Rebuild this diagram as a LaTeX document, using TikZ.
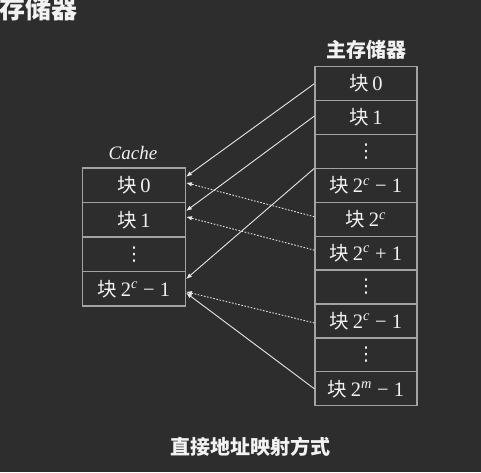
\documentclass[tikz,border=0pt]{standalone}
\usepackage{fontspec}
\setmainfont{Liberation Serif}
\newfontfamily\cjk{Noto Sans CJK SC}
\newfontfamily\dejavu{DejaVu Sans}
\usetikzlibrary{arrows.meta}
\definecolor{board}{HTML}{2D2D2D}
\definecolor{frame}{HTML}{A3A3A3}
\definecolor{ink}{HTML}{F2F2F2}
\definecolor{wire}{HTML}{E6E6E6}
\newcommand{\blk}[1]{{\cjk\fontsize{19.5}{20}\selectfont 块}\,#1}
\newcommand{\sps}[1]{\textsuperscript{\itshape #1}}
\newcommand{\vd}{{\dejavu\fontsize{19}{20}\selectfont ⋮}}
\tikzset{
  cell/.style={draw=frame, line width=1.3pt, fill=board, text=ink, inner sep=0pt,
    font=\fontsize{20.5}{22}\selectfont},
  mcell/.style={cell, minimum width=102pt, minimum height=33.9pt},
  ccell/.style={cell, minimum width=102.6pt, minimum height=34.5pt},
  heading/.style={text=ink, font=\cjk\bfseries\fontsize{20}{22}\selectfont, inner sep=0pt},
  solidarrow/.style={draw=wire, line width=0.9pt, -{Latex[length=6pt,width=4.5pt]}},
  dotarrow/.style={draw=wire, line width=0.9pt, dash pattern=on 1.6pt off 1.6pt,
    -{Latex[length=6pt,width=4.5pt]}},
}
\begin{document}
\begin{tikzpicture}[x=1pt,y=-1pt]
\fill[board] (0,0) rectangle (481,472);
\useasboundingbox (0,0) rectangle (481,472);
\clip (0,0) rectangle (481,472);

\node[heading, anchor=west, font=\cjk\bfseries\fontsize{26}{28}\selectfont] (title) at (-1,9) {存储器};

% main memory
\node[heading] (mlabel) at (366,50) {主存储器};
\foreach \i/\t in {0/\blk{0},1/\blk{1},2/\vd,3/\blk{2\sps{c} − 1},4/\blk{2\sps{c}},
  5/\blk{2\sps{c} + 1},6/\vd,7/\blk{2\sps{c} − 1},8/\vd,9/\blk{2\sps{m} − 1}}{
  \node[mcell] (m\i) at (366,{66.7+33.9*(\i+0.5)}) {\t};
}

% cache
\node[text=ink, inner sep=0pt, font=\itshape\fontsize{19}{21}\selectfont] (clabel) at (133,153) {Cache};
\foreach \i/\t in {0/\blk{0},1/\blk{1},2/\vd,3/\blk{2\sps{c} − 1}}{
  \node[ccell] (c\i) at (134,{168+34.5*(\i+0.5)}) {\t};
}

% arrows
\draw[solidarrow] (m0.west) -- ([yshift=8.5pt]c0.east);
\draw[solidarrow] ([yshift=1.5pt]m1.west) -- ([yshift=8.7pt]c1.east);
\draw[solidarrow] ([yshift=-0.6pt]m3.north west) -- ([yshift=9.7pt]c3.east);
\draw[solidarrow] (m9.west) -- ([yshift=-4pt]c3.east);
\draw[dotarrow] ([yshift=2.5pt]m4.west) -- ([yshift=2.5pt]c0.east);
\draw[dotarrow] ([yshift=3pt]m5.west) -- ([yshift=3pt]c1.east);
\draw[dotarrow] ([yshift=-2pt]m7.west) -- ([yshift=-3pt]c3.east);

\node[heading] (caption) at (250,447) {直接地址映射方式};
\end{tikzpicture}
\end{document}
